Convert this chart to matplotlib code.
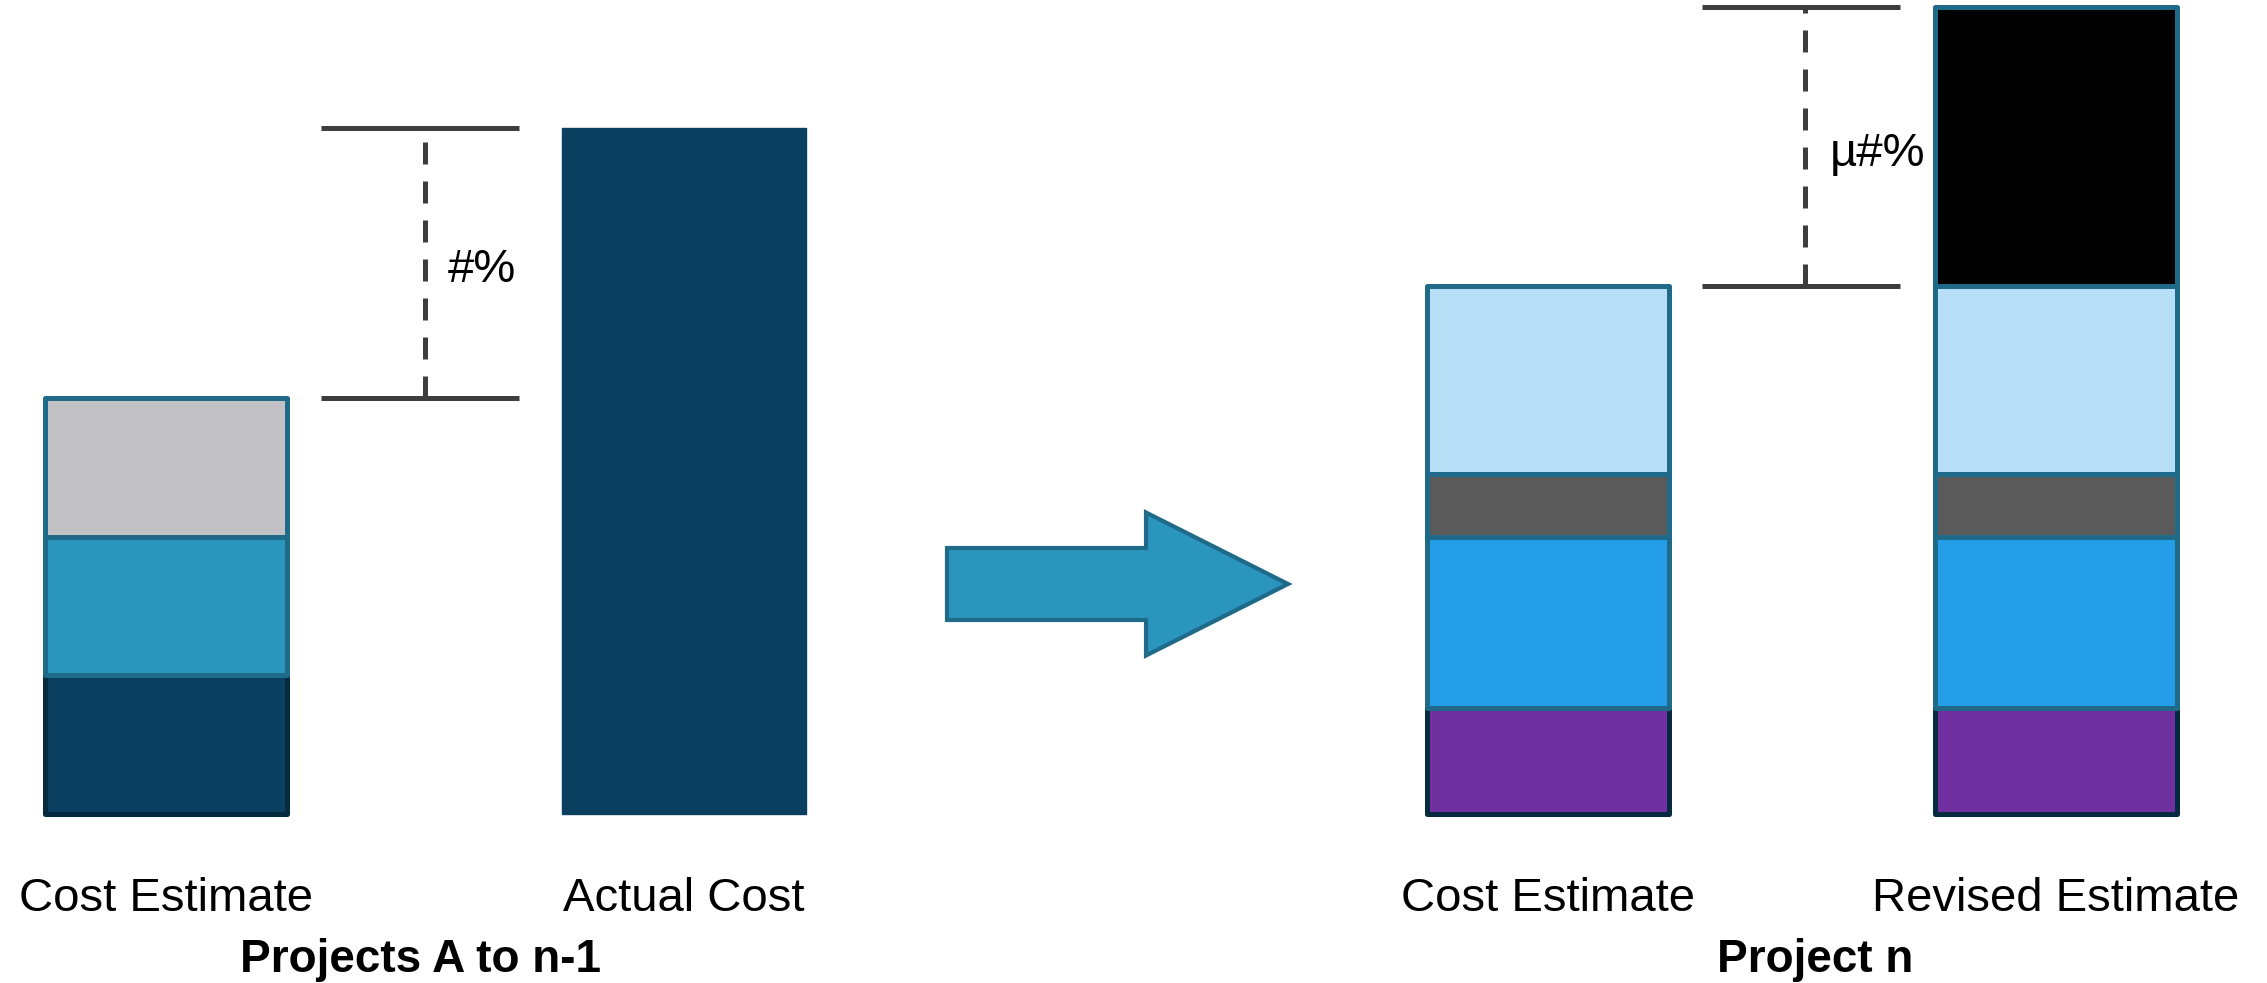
import matplotlib
matplotlib.use("Agg")
from matplotlib import pyplot as plt
from matplotlib.patches import FancyArrow

plt.rcParams["font.family"] = ["Liberation Sans", "DejaVu Sans"]

# --- data (cost units, estimate of past projects = 100) ---
past_labels = ["Cost Estimate", "Actual Cost"]
past_estimate = [33.4, 33.2, 33.4]          # bottom -> top
past_actual = 164.9
past_gap_label = "#%"

current_labels = ["Cost Estimate", "Revised Estimate"]
current_estimate = [25.5, 41.1, 15.1, 45.2]  # bottom -> top
revised_extra = 67.1
current_gap_label = "µ#%"

group_labels = ["Projects A to n-1", "Project n"]

# --- styles ---
past_colors = ["#0B3F60", "#2A95BD", "#C1C1C6"]
past_edges = ["#062A40", "#1F6A89", "#1F6A89"]
current_colors = ["#6F319F", "#239DE8", "#5A5A5A", "#B7DFF7"]
current_edges = ["#062A40", "#1F6A89", "#1F6A89", "#1F6A89"]
navy = "#0B3F60"
edge = "#1F6A89"
line_col = "#3D3D3D"

W, H = 2267, 983
base_px = 814
px_per_unit = 4.16

fig = plt.figure(figsize=(W / 100, H / 100), dpi=100)
ax = fig.add_axes([0, (H - base_px) / H, 1, base_px / H])
ax.set_xlim(0, W / 100)
ax.set_ylim(0, base_px / px_per_unit)
ax.axis("off")

x_pos = [1.66, 6.84, 15.48, 20.555]
bar_w = 2.42
lw = 3.6


def stack(ax, x, values, colors, edges):
    bottom = 0
    for v, c, e in zip(values, colors, edges):
        ax.bar(x, v, bottom=bottom, width=bar_w, color=c, edgecolor=e,
               linewidth=lw, clip_on=False, joinstyle="round")
        bottom += v
    return bottom


# past projects
est_total = stack(ax, x_pos[0], past_estimate, past_colors, past_edges)
ax.bar(x_pos[1], past_actual, width=2.44, color=navy, edgecolor=navy,
       linewidth=1, clip_on=False)

# project n
cur_total = stack(ax, x_pos[2], current_estimate, current_colors, current_edges)
rev_base = stack(ax, x_pos[3], current_estimate, current_colors, current_edges)
ax.bar(x_pos[3], revised_extra, bottom=rev_base, width=bar_w, color="black",
       edgecolor=edge, linewidth=lw, clip_on=False, joinstyle="round")
rev_total = rev_base + revised_extra


def bracket(ax, x0, x1, xd, lo, hi, label, xt):
    ax.hlines([lo, hi], x0, x1, colors=line_col, linewidth=lw, clip_on=False)
    ax.vlines(xd, lo, hi, colors=line_col, linewidth=lw,
              linestyles=(0, (4.4, 3.4)), clip_on=False)
    ax.text(xt, (lo + hi) / 2 - 1.8, label, fontsize=34, ha="left", va="center")


bracket(ax, 3.21, 5.19, 4.25, est_total, past_actual, past_gap_label, 4.48)
bracket(ax, 17.02, 19.0, 18.05, cur_total, rev_total, current_gap_label, 18.30)

# arrow between groups
arrow_y = (base_px - 584) / px_per_unit
ax.add_patch(FancyArrow(9.47, arrow_y, 3.41, 0, width=72 / px_per_unit,
                        head_width=143 / px_per_unit, head_length=1.42,
                        length_includes_head=True, facecolor="#2A95BD",
                        edgecolor=edge, linewidth=3, clip_on=False))

# labels under bars
lab_y = (base_px - 899) / px_per_unit
grp_y = (base_px - 960) / px_per_unit
for x, t in zip(x_pos, past_labels + current_labels):
    ax.text(x, lab_y, t, fontsize=34, ha="center", va="center", clip_on=False)
ax.text(4.20, grp_y, group_labels[0], fontsize=33, fontweight="bold",
        ha="center", va="center", clip_on=False)
ax.text(18.15, grp_y, group_labels[1], fontsize=33, fontweight="bold",
        ha="center", va="center", clip_on=False)

fig.savefig("out.png", dpi=100)
